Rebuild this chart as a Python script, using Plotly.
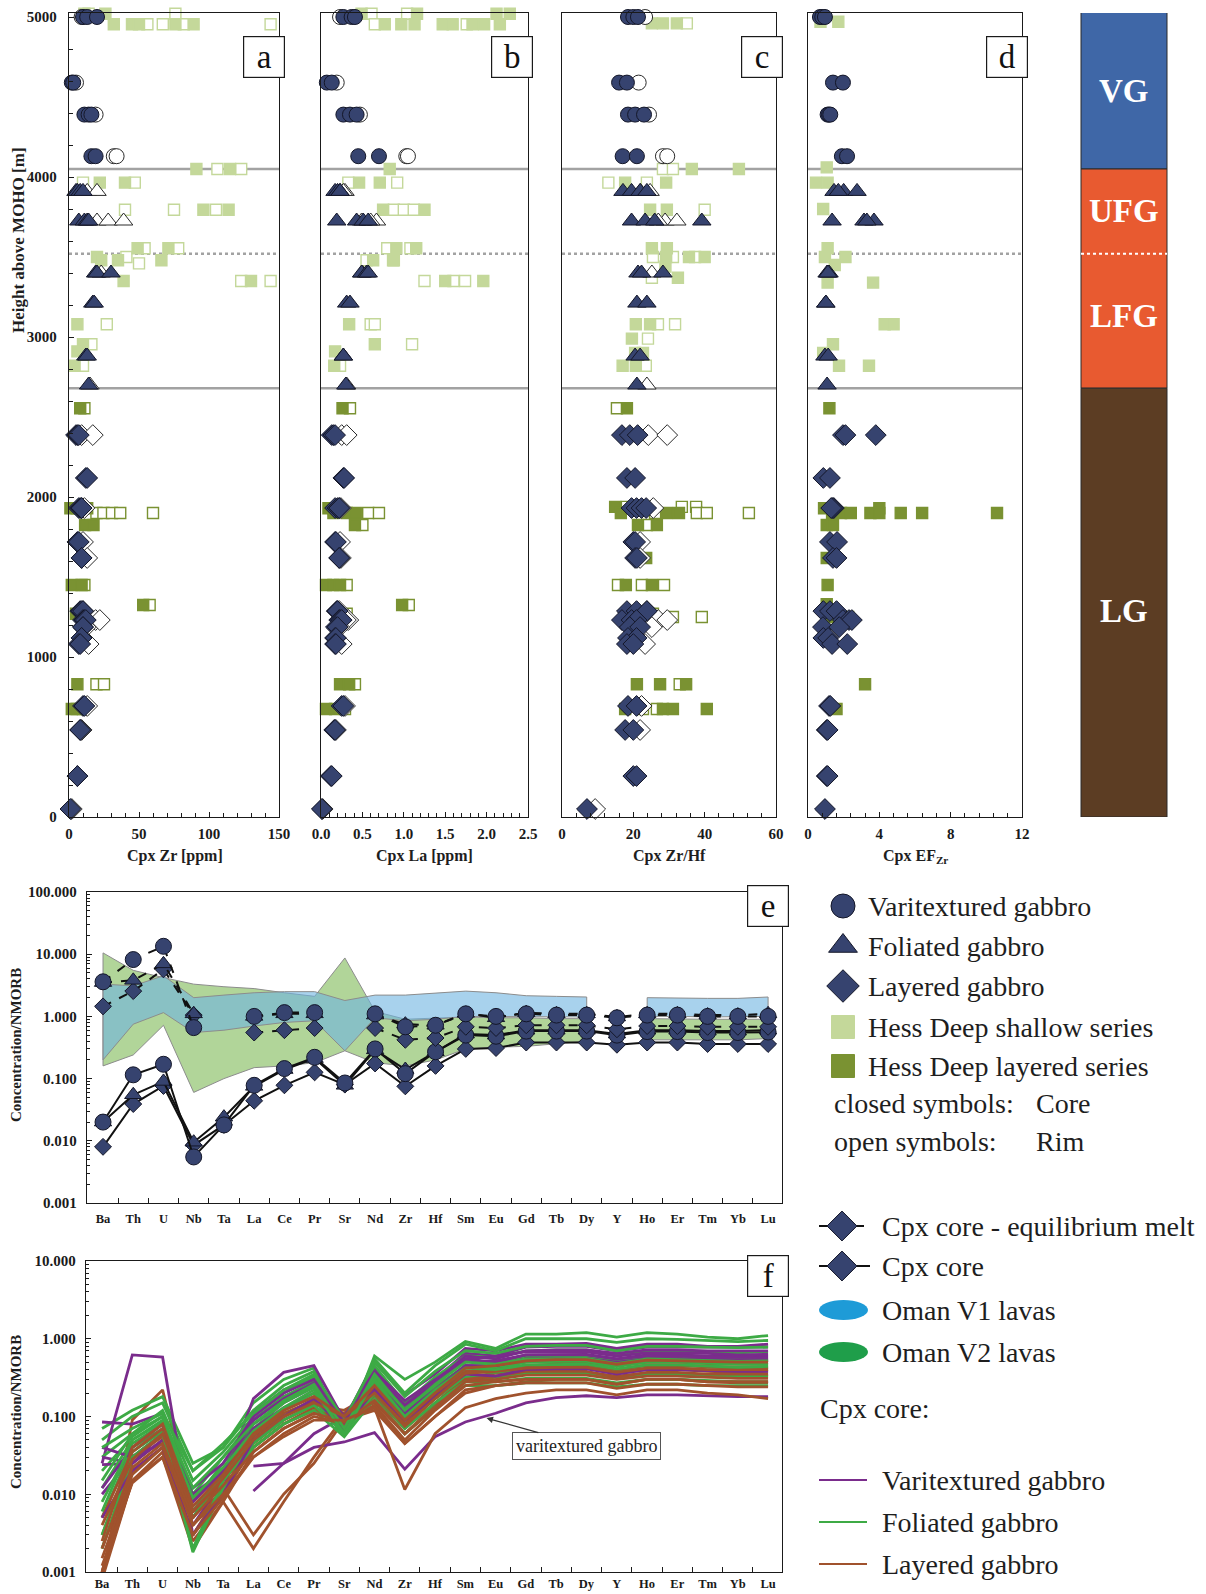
import plotly.graph_objects as go

W, H = 1206, 1594
SERIF = "Liberation Serif"

NAVY = "#36436F"
EDGE = "#141729"
RIM_EDGE = "#2A2A2A"
SHALLOW = "#C4D89A"
DEEP = "#7A9232"
ZONE_LINE = "#A2A2A2"

# ---------------------------------------------------------------------------
# Oman gabbro cpx: sample heights [m above MOHO] and values per panel
# (Zr ppm, La ppm, Zr/Hf, EF_Zr)
# ---------------------------------------------------------------------------
VG_CORE_H = [5000, 5000, 5000, 4590, 4590, 4390, 4390, 4390, 4130, 4130]
VG_CORE_ZR = [10, 13, 20, 2, 3, 11, 14, 16, 16, 19]
VG_CORE_LA = [0.27, 0.37, 0.41, 0.07, 0.13, 0.27, 0.35, 0.43, 0.45, 0.70]
VG_CORE_ZRHF = [18.5, 20.0, 21.3, 16.0, 18.2, 18.5, 20.5, 23.0, 17.0, 21.0]
VG_CORE_EF = [0.67, 0.80, 0.95, 1.40, 1.96, 1.10, 1.18, 1.25, 1.90, 2.19]
VG_RIM_H = [5000, 4590, 4390, 4130, 4130]
VG_RIM_ZR = [9, 5, 19, 32, 34]
VG_RIM_LA = [0.23, 0.19, 0.47, 1.03, 1.05]
VG_RIM_ZRHF = [23.3, 21.5, 24.4, 28.3, 29.5]

FG_CORE_H = [3910, 3910, 3910, 3910, 3725, 3725, 3725, 3725, 3400, 3400, 3400,
             3212, 3212, 2881, 2881, 2700]
FG_CORE_ZR = [5, 6, 8, 10, 7, 11, 13, 14, 19, 20, 30, 17, 18, 12, 13, 14]
FG_CORE_LA = [0.17, 0.20, 0.23, 0.23, 0.19, 0.43, 0.51, 0.57, 0.49, 0.55, 0.57,
              0.31, 0.35, 0.27, 0.27, 0.30]
FG_CORE_ZRHF = [17.1, 19.5, 21.9, 23.8, 19.5, 23.3, 26.0, 39.2, 21.3, 22.3, 28.3,
                21.0, 23.8, 20.5, 21.9, 21.0]
FG_CORE_EF = [1.46, 2.00, 2.75, 1.70, 1.35, 3.14, 3.70, 3.30, 1.07, 1.18, 1.12,
              1.00, 1.00, 0.95, 1.13, 1.07]
FG_RIM_H = [3910, 3910, 3725, 3725, 3725, 3400, 2700]
FG_RIM_ZR = [13, 20, 20, 28, 39, 23, 15]
FG_RIM_LA = [0.29, 0.27, 0.49, 0.67, 0.60, 0.50, 0.31]
FG_RIM_ZRHF = [24.7, 22.0, 28.9, 32.2, 27.0, 25.2, 23.8]

LG_CORE_H = [2387, 2387, 2387, 2119, 2119, 1931, 1931, 1931, 1931, 1719, 1719,
             1619, 1619, 1287, 1287, 1287, 1231, 1231, 1231, 1187, 1187, 1119, 1119,
             1081, 1081, 694, 694, 544, 544, 256, 256, 50]
LG_CORE_ZR = [5, 6, 7, 12, 13, 7, 8, 9, 9, 6, 7, 9, 9, 8, 9, 10, 10, 11, 12, 10, 10,
              9, 9, 7, 8, 10, 11, 8, 8, 6, 6, 1]
LG_CORE_LA = [0.13, 0.15, 0.17, 0.27, 0.28, 0.17, 0.20, 0.22, 0.22, 0.17, 0.18,
              0.22, 0.22, 0.19, 0.20, 0.20, 0.22, 0.23, 0.25, 0.18, 0.20, 0.17, 0.18,
              0.17, 0.18, 0.25, 0.27, 0.16, 0.17, 0.12, 0.13, 0.01]
LG_CORE_ZRHF = [16.8, 19.0, 21.2, 18.2, 20.5, 19.5, 20.9, 22.3, 23.6, 20.0, 20.5,
                20.5, 21.0, 18.2, 20.9, 23.8, 16.8, 19.5, 20.9, 19.0, 21.9, 18.5, 20.9,
                18.2, 20.0, 18.5, 20.9, 17.7, 20.0, 20.0, 20.9, 7.0]
LG_CORE_EF = [1.96, 2.10, 3.80, 0.86, 1.23, 1.35, 1.45, 1.40, 1.30, 1.23, 1.63,
              1.40, 1.60, 0.86, 1.23, 1.60, 1.96, 2.30, 2.46, 0.84, 1.75, 0.86, 1.13,
              1.35, 2.20, 1.18, 1.25, 1.05, 1.10, 1.05, 1.10, 0.95]
LG_RIM_H = [2387, 2387, 1931, 1719, 1619, 1287, 1231, 1231, 1231, 1187, 1081, 694,
            544, 50]
LG_RIM_ZR = [9, 17, 11, 10, 13, 10, 16, 19, 22, 12, 14, 13, 9, 2]
LG_RIM_LA = [0.25, 0.31, 0.24, 0.23, 0.24, 0.22, 0.31, 0.33, 0.30, 0.22, 0.25,
             0.29, 0.18, 0.02]
LG_RIM_ZRHF = [24.2, 29.5, 25.6, 21.9, 21.9, 23.8, 24.7, 27.0, 29.5, 25.2, 23.3,
               22.3, 21.9, 9.3]

# ---------------------------------------------------------------------------
# Hess Deep reference data (shallow and layered series), core / rim
# ---------------------------------------------------------------------------
HDS_CORE_ZR_H = [5020, 5020, 4955, 4955, 4955, 4955, 4955, 4050, 4050, 3965, 3965,
                 3795, 3795, 3555, 3555, 3500, 3480, 3480, 3480, 3350, 3350, 3080,
                 2955, 2910, 2820]
HDS_CORE_ZR = [11, 26, 32, 45, 50, 76, 89, 91, 115, 22, 40, 96, 114, 49, 71, 20,
               23, 35, 66, 39, 130, 6, 10, 6, 4]
HDS_RIM_ZR_H = [5020, 5020, 4955, 4955, 4955, 4955, 4050, 4050, 3965, 3965, 3795,
                3795, 3795, 3555, 3555, 3500, 3460, 3350, 3350, 3080, 2955, 2820]
HDS_RIM_ZR = [14, 76, 56, 67, 82, 144, 106, 123, 10, 47, 40, 75, 105, 54, 78, 41,
              50, 123, 144, 27, 16, 10]
HDL_CORE_ZR_H = [2555, 1930, 1930, 1930, 1825, 1825, 1450, 1450, 1325, 1270, 830,
                 675, 675]
HDL_CORE_ZR = [8, 1, 5.5, 13, 11.5, 17.5, 2, 9, 53, 5, 6, 2, 5.5]
HDL_RIM_ZR_H = [2555, 1900, 1900, 1900, 1900, 1900, 1450, 1325, 830, 830, 675]
HDL_RIM_ZR = [11, 19.6, 24.6, 30.7, 36.6, 60, 11, 57.6, 19.6, 25, 10]

HDS_CORE_LA_H = [5020, 5020, 5020, 5020, 4955, 4955, 4955, 4955, 4955, 4955, 4955,
                 4955, 4050, 3965, 3965, 3795, 3795, 3555, 3555, 3480, 3480, 3350,
                 3350, 3080, 2955, 2910, 2820]
HDS_CORE_LA = [0.49, 1.16, 2.12, 2.28, 0.77, 0.97, 1.13, 1.47, 1.59, 1.83, 1.97,
               2.16, 0.83, 0.46, 0.71, 0.75, 1.25, 0.91, 1.15, 0.63, 0.87, 1.50,
               1.96, 0.34, 0.65, 0.17, 0.16]
HDS_RIM_LA_H = [5020, 5020, 4955, 4955, 3965, 3965, 3795, 3795, 3795, 3555, 3555,
                3480, 3480, 3350, 3350, 3350, 3080, 3080, 2955, 2820]
HDS_RIM_LA = [0.61, 1.04, 0.65, 1.76, 0.33, 0.92, 0.88, 1.00, 1.12, 0.80, 1.08,
              0.55, 0.88, 1.25, 1.60, 1.74, 0.60, 0.65, 1.10, 0.23]
HDL_CORE_LA_H = [2555, 1930, 1930, 1900, 1900, 1900, 1825, 1450, 1450, 1450, 1325,
                 830, 830, 675, 675]
HDL_CORE_LA = [0.26, 0.09, 0.15, 0.15, 0.31, 0.42, 0.41, 0.06, 0.15, 0.23, 0.98,
               0.23, 0.34, 0.06, 0.17]
HDL_RIM_LA_H = [2555, 1900, 1900, 1825, 1450, 1325, 1270, 830, 675]
HDL_RIM_LA = [0.35, 0.57, 0.70, 0.50, 0.31, 1.06, 0.31, 0.41, 0.29]

HDS_CORE_ZRHF_H = [5030, 5030, 5030, 4960, 4960, 4960, 4050, 4050, 3965, 3965,
                   3795, 3795, 3555, 3555, 3500, 3500, 3500, 3440, 3370, 3080, 3080,
                   2990, 2900, 2900, 2820, 2820]
HDS_CORE_ZRHF = [13.0, 17.7, 32.5, 25.2, 28.3, 32.2, 36.4, 49.6, 17.7, 29.2, 24.7,
                 29.4, 25.2, 29.4, 29.2, 35.6, 40.0, 29.0, 32.5, 20.7, 24.7, 19.6,
                 20.5, 22.7, 17.0, 20.7]
HDS_RIM_ZRHF_H = [5030, 5030, 5030, 4960, 4050, 4050, 3965, 3965, 3795, 3500, 3500,
                  3500, 3370, 3080, 3080, 2990, 2820]
HDS_RIM_ZRHF = [17.0, 26.0, 29.0, 35.0, 28.3, 31.1, 13.0, 23.8, 40.0, 25.5, 31.1,
                37.3, 25.2, 26.9, 31.7, 24.1, 23.5]
HDL_CORE_ZRHF_H = [2555, 1938, 1900, 1900, 1900, 1825, 1825, 1619, 1450, 1450, 1270,
                   830, 830, 830, 675, 675, 675, 675]
HDL_CORE_ZRHF = [18.2, 14.9, 16.5, 29.4, 32.8, 21.3, 26.6, 23.6, 17.9, 25.2, 23.3,
                 21.0, 27.5, 34.8, 17.7, 28.3, 31.1, 40.6]
HDL_RIM_ZRHF_H = [2555, 1938, 1938, 1938, 1938, 1900, 1900, 1900, 1900, 1825, 1450,
                  1450, 1450, 1270, 1250, 1250, 830, 675, 675]
HDL_RIM_ZRHF = [15.4, 18.2, 24.1, 33.6, 37.6, 26.1, 37.8, 40.6, 52.4, 23.8, 15.7,
                22.4, 28.6, 25.5, 31.1, 39.2, 33.0, 22.7, 26.6]

HDS_CORE_EF_H = [5030, 5030, 4970, 4970, 4060, 3965, 3965, 3800, 3555, 3500, 3500,
                 3450, 3340, 3340, 3080, 3080, 2955, 2900, 2820, 2820]
HDS_CORE_EF = [1.6, 2.3, 0.7, 1.7, 1.05, 0.45, 1.1, 0.85, 1.1, 0.95, 2.1, 1.5, 1.1,
               3.65, 4.3, 4.8, 1.4, 0.85, 1.74, 3.42]
HDL_CORE_EF_H = [2555, 1930, 1930, 1900, 1900, 1900, 1900, 1900, 1900, 1900, 1900,
                 1825, 1825, 1619, 1450, 1330, 1250, 1250, 830, 675]
HDL_CORE_EF = [1.2, 0.9, 4.0, 1.35, 1.85, 2.4, 3.5, 4.0, 5.2, 6.4, 10.6, 1.05, 1.4,
               1.05, 1.1, 1.05, 1.3, 2.25, 3.2, 1.6]

# Lithological zone boundaries [m above MOHO]
VG_BASE = 4050
UFG_BASE = 3520
LFG_BASE = 2680
COLUMN_TOP = 5045

# ---------------------------------------------------------------------------
# NMORB-normalised spider diagrams
# ---------------------------------------------------------------------------
ELEMENTS = ["Ba", "Th", "U", "Nb", "Ta", "La", "Ce", "Pr", "Sr", "Nd", "Zr", "Hf",
            "Sm", "Eu", "Gd", "Tb", "Dy", "Y", "Ho", "Er", "Tm", "Yb", "Lu"]

MELT_VG = [3.6, 8.2, 13.4, 0.66, None, 1.0, 1.15, 1.15, None, 1.1, 0.68, 0.72, 1.1,
           1.0, 1.1, 1.05, 1.05, 0.95, 1.05, 1.05, 1.0, 1.0, 1.0]
MELT_FG = [3.5, 3.8, 7.0, 1.1, None, 1.0, 1.1, 1.1, None, 1.05, 0.75, 0.72, 1.12,
           0.95, 1.15, 1.1, 1.1, 0.98, 1.1, 1.1, 1.05, 1.05, 1.1]
MELT_LG = [1.45, 2.55, 5.7, 1.05, None, 0.55, 0.6, 0.65, None, 0.65, 0.42, 0.45,
           0.68, 0.65, 0.72, 0.72, 0.72, 0.62, 0.7, 0.7, 0.68, 0.68, 0.68]
CORE_VG = [0.02, 0.115, 0.17, 0.0055, 0.018, 0.078, 0.145, 0.22, 0.085, 0.30, 0.12,
           0.27, 0.5, 0.48, 0.58, 0.58, 0.58, 0.5, 0.57, 0.57, 0.55, 0.55, 0.56]
CORE_FG = [0.02, 0.055, 0.09, 0.0095, 0.024, 0.075, 0.14, 0.21, 0.078, 0.29, 0.14,
           0.27, 0.52, 0.5, 0.6, 0.6, 0.6, 0.52, 0.6, 0.6, 0.58, 0.58, 0.6]
CORE_LG = [0.008, 0.039, 0.076, 0.0085, 0.018, 0.044, 0.078, 0.126, 0.08, 0.175,
           0.075, 0.16, 0.3, 0.31, 0.38, 0.38, 0.38, 0.35, 0.38, 0.38, 0.36, 0.36,
           0.36]

V1_UP = [3.3, 3.1, 4.5, 2.0, 2.2, 2.4, 2.5, 2.5, 1.8, 2.2, 2.2, 2.4, 2.55, 2.4, 2.15,
         2.1, 2.05, None, 2.0, 1.95, 1.95, 1.95, 2.05]
V1_LO = [0.2, 0.75, 1.15, 0.55, 0.6, 0.7, 0.8, 0.85, 0.28, 0.95, 0.85, 0.9, 1.0,
         0.98, 0.98, 0.98, 0.98, None, 1.0, 1.0, 0.98, 0.98, 1.0]
V2_UP = [10.5, 5.5, 4.2, 3.3, 3.0, 2.8, 2.4, 2.1, 8.7, 1.2, 0.9, 0.95, 0.98, 0.95,
         0.95, 0.92, 0.92, None, 0.92, 0.9, 0.9, 0.9, 0.9]
V2_LO = [0.16, 0.24, 0.72, 0.06, 0.1, 0.15, 0.16, 0.18, 0.28, 0.18, 0.16, 0.2, 0.3,
         0.32, 0.33, 0.36, 0.4, None, 0.42, 0.42, 0.42, 0.42, 0.44]

# Individual cpx core patterns (panel f)
VARI_LINES = [
    [0.085, 0.08, 0.11, 0.004, 0.015, 0.17, 0.37, 0.45, 0.09, 0.5, 0.19, 0.35, 0.75, 0.7, 0.85, 0.85, 0.87, 0.75, 0.85, 0.85, 0.8, 0.8, 0.85],
    [0.025, 0.62, 0.58, 0.003, 0.012, 0.11, 0.22, 0.32, 0.07, 0.42, 0.15, 0.3, 0.65, 0.6, 0.78, 0.8, 0.8, 0.7, 0.78, 0.78, 0.78, 0.77, 0.78],
    [0.03, 0.025, 0.06, 0.006, 0.02, 0.09, 0.18, 0.28, 0.08, 0.35, 0.14, 0.28, 0.6, 0.55, 0.7, 0.72, 0.72, 0.65, 0.72, 0.72, 0.7, 0.7, 0.7],
    [0.024, 0.025, 0.05, 0.005, 0.018, 0.08, 0.15, 0.24, 0.075, 0.3, 0.12, 0.25, 0.55, 0.5, 0.62, 0.63, 0.63, 0.55, 0.62, 0.62, 0.6, 0.6, 0.6],
    [0.01, 0.03, 0.045, 0.01, 0.02, 0.07, 0.13, 0.2, 0.08, 0.28, 0.11, 0.22, 0.45, 0.45, 0.55, 0.56, 0.56, 0.5, 0.55, 0.55, 0.54, 0.54, 0.54],
    [None, None, None, None, None, 0.023, 0.025, 0.04, 0.047, 0.062, 0.021, 0.055, 0.085, 0.11, 0.15, 0.175, 0.185, 0.175, 0.19, 0.19, 0.185, 0.18, 0.18],
    [None, None, None, None, None, 0.011, 0.025, 0.06, 0.1, 0.22, 0.09, 0.2, 0.45, 0.45, 0.55, 0.55, 0.55, 0.48, 0.55, 0.55, 0.52, 0.52, 0.52],
    [0.04, 0.03, 0.06, 0.012, 0.025, 0.1, 0.2, 0.3, 0.1, 0.38, 0.16, 0.3, 0.55, 0.6, 0.68, 0.68, 0.68, 0.6, 0.66, 0.66, 0.65, 0.62, 0.63],
    [0.005, 0.02, 0.04, 0.003, 0.01, 0.05, 0.1, 0.17, 0.07, 0.22, 0.09, 0.18, 0.35, 0.33, 0.4, 0.41, 0.41, 0.35, 0.4, 0.4, 0.39, 0.38, 0.38],
    [0.012, 0.04, 0.08, 0.008, 0.02, 0.09, 0.17, 0.27, 0.085, 0.36, 0.14, 0.27, 0.5, 0.52, 0.62, 0.62, 0.62, 0.55, 0.6, 0.6, 0.58, 0.58, 0.57],
]
FOLI_LINES = [
    [0.07, 0.12, 0.18, 0.025, 0.04, 0.15, 0.3, 0.42, 0.06, 0.6, 0.3, 0.5, 0.92, 0.75, 1.15, 1.15, 1.2, 1.05, 1.2, 1.15, 1.05, 1.0, 1.1],
    [0.05, 0.1, 0.15, 0.02, 0.04, 0.12, 0.25, 0.38, 0.07, 0.55, 0.2, 0.45, 0.85, 0.7, 1.0, 1.0, 1.0, 0.9, 1.0, 0.98, 0.95, 0.92, 0.95],
    [0.03, 0.06, 0.12, 0.015, 0.035, 0.1, 0.2, 0.33, 0.075, 0.45, 0.15, 0.32, 0.6, 0.58, 0.7, 0.72, 0.72, 0.62, 0.7, 0.7, 0.68, 0.66, 0.68],
    [0.02, 0.055, 0.1, 0.01, 0.03, 0.09, 0.18, 0.28, 0.08, 0.38, 0.13, 0.28, 0.52, 0.5, 0.58, 0.58, 0.6, 0.52, 0.58, 0.57, 0.55, 0.55, 0.55],
    [0.012, 0.05, 0.09, 0.008, 0.025, 0.07, 0.15, 0.24, 0.065, 0.32, 0.11, 0.24, 0.45, 0.42, 0.5, 0.5, 0.5, 0.44, 0.5, 0.5, 0.48, 0.47, 0.47],
    [0.008, 0.045, 0.08, 0.006, 0.02, 0.06, 0.12, 0.2, 0.07, 0.28, 0.09, 0.2, 0.38, 0.37, 0.42, 0.43, 0.43, 0.38, 0.42, 0.42, 0.4, 0.4, 0.4],
    [0.005, 0.04, 0.07, 0.005, 0.018, 0.05, 0.1, 0.16, 0.06, 0.22, 0.08, 0.17, 0.32, 0.32, 0.36, 0.36, 0.36, 0.31, 0.35, 0.35, 0.34, 0.33, 0.33],
    [0.003, 0.035, 0.065, 0.002, 0.015, 0.045, 0.09, 0.14, 0.06, 0.2, 0.07, 0.15, 0.28, 0.28, 0.31, 0.31, 0.31, 0.27, 0.3, 0.3, 0.29, 0.28, 0.28],
    [0.002, 0.03, 0.06, 0.0018, 0.012, 0.04, 0.08, 0.12, 0.055, 0.17, 0.06, 0.13, 0.25, 0.25, 0.27, 0.27, 0.27, 0.24, 0.26, 0.26, 0.25, 0.25, 0.25],
    [0.04, 0.07, 0.11, 0.02, 0.045, 0.11, 0.22, 0.35, 0.09, 0.5, 0.18, 0.38, 0.7, 0.65, 0.8, 0.82, 0.82, 0.7, 0.8, 0.8, 0.78, 0.77, 0.78],
    [0.015, 0.06, 0.1, 0.012, 0.03, 0.08, 0.16, 0.26, 0.07, 0.35, 0.12, 0.26, 0.5, 0.47, 0.55, 0.55, 0.56, 0.48, 0.55, 0.54, 0.52, 0.51, 0.52],
    [0.006, 0.05, 0.085, 0.009, 0.022, 0.065, 0.13, 0.22, 0.06, 0.3, 0.1, 0.22, 0.42, 0.4, 0.46, 0.46, 0.47, 0.41, 0.46, 0.46, 0.44, 0.43, 0.44],
]
LAYER_LINES = [
    [0.0008, 0.09, 0.22, 0.006, 0.01, 0.05, 0.1, 0.15, 0.11, 0.2, 0.08, 0.17, 0.35, 0.4, 0.45, 0.45, 0.45, 0.4, 0.45, 0.45, 0.43, 0.42, 0.43],
    [0.001, 0.02, 0.04, 0.003, 0.01, 0.04, 0.08, 0.13, 0.09, 0.18, 0.07, 0.15, 0.32, 0.36, 0.4, 0.42, 0.42, 0.36, 0.4, 0.4, 0.38, 0.37, 0.38],
    [0.0009, 0.015, 0.035, 0.0025, 0.008, 0.035, 0.07, 0.11, 0.1, 0.15, 0.06, 0.13, 0.28, 0.32, 0.36, 0.37, 0.37, 0.33, 0.36, 0.36, 0.34, 0.34, 0.34],
    [0.002, 0.025, 0.05, 0.004, 0.012, 0.045, 0.09, 0.14, 0.12, 0.2, 0.09, 0.19, 0.38, 0.42, 0.5, 0.52, 0.52, 0.45, 0.5, 0.5, 0.48, 0.47, 0.47],
    [0.001, 0.03, 0.06, 0.005, 0.015, 0.06, 0.12, 0.18, 0.1, 0.24, 0.1, 0.22, 0.42, 0.45, 0.55, 0.56, 0.56, 0.48, 0.55, 0.55, 0.52, 0.52, 0.52],
    [0.001, 0.02, 0.04, 0.003, 0.012, 0.003, 0.01, 0.025, 0.09, 0.12, 0.045, 0.1, 0.2, 0.25, 0.28, 0.3, 0.3, 0.26, 0.3, 0.3, 0.28, 0.27, 0.27],
    [0.0008, 0.015, 0.03, 0.002, 0.008, 0.002, 0.008, 0.03, 0.1, 0.13, 0.0115, 0.06, 0.13, 0.17, 0.2, 0.22, 0.22, 0.19, 0.22, 0.22, 0.2, 0.19, 0.17],
    [0.003, 0.03, 0.055, 0.006, 0.015, 0.04, 0.08, 0.12, 0.09, 0.17, 0.06, 0.14, 0.3, 0.33, 0.38, 0.38, 0.38, 0.32, 0.37, 0.37, 0.35, 0.35, 0.35],
    [0.005, 0.035, 0.07, 0.008, 0.02, 0.055, 0.11, 0.16, 0.1, 0.22, 0.08, 0.18, 0.38, 0.4, 0.45, 0.47, 0.47, 0.4, 0.46, 0.46, 0.44, 0.43, 0.43],
    [0.0015, 0.018, 0.04, 0.004, 0.01, 0.03, 0.06, 0.1, 0.08, 0.14, 0.05, 0.12, 0.25, 0.28, 0.3, 0.3, 0.3, 0.26, 0.3, 0.3, 0.28, 0.28, 0.28],
    [0.002, 0.022, 0.045, 0.005, 0.013, 0.035, 0.07, 0.11, 0.085, 0.16, 0.06, 0.13, 0.28, 0.3, 0.34, 0.34, 0.34, 0.3, 0.33, 0.33, 0.32, 0.31, 0.31],
    [0.004, 0.028, 0.06, 0.006, 0.016, 0.05, 0.1, 0.15, 0.1, 0.2, 0.075, 0.17, 0.36, 0.38, 0.42, 0.43, 0.43, 0.37, 0.42, 0.42, 0.4, 0.4, 0.4],
    [0.0012, 0.014, 0.03, 0.003, 0.009, 0.03, 0.055, 0.09, 0.09, 0.13, 0.045, 0.1, 0.22, 0.25, 0.27, 0.27, 0.27, 0.23, 0.26, 0.26, 0.25, 0.24, 0.24],
    [0.0025, 0.04, 0.08, 0.007, 0.018, 0.06, 0.12, 0.18, 0.1, 0.25, 0.09, 0.2, 0.42, 0.45, 0.52, 0.54, 0.54, 0.47, 0.53, 0.52, 0.5, 0.5, 0.5],
]

PURPLE = "#7A2C8C"
GREEN = "#3DAA45"
BROWN = "#A0522D"
V1_FILL = "rgba(110,180,225,0.6)"
V2_FILL = "rgba(125,185,85,0.6)"

fig = go.Figure()


def xdom(left, right):
    return [left / W, right / W]


def ydom(top, bottom):
    return [1 - bottom / H, 1 - top / H]


def points(xa, ya, hs, vals, symbol, color, edge, size, width=1.0):
    xs, ys = [], []
    for h, v in zip(hs, vals):
        if v is not None:
            xs.append(v)
            ys.append(h)
    fig.add_trace(go.Scatter(
        x=xs, y=ys, xaxis=xa, yaxis=ya, mode="markers", cliponaxis=False,
        marker=dict(symbol=symbol, size=size, color=color, line=dict(color=edge, width=width)),
        showlegend=False, hoverinfo="skip"))


# ---------------------------- panels a-d ----------------------------------
PANEL_SERIES = [
    ("x", "y",
     [(HDS_RIM_ZR_H, HDS_RIM_ZR, "white", SHALLOW), (HDS_CORE_ZR_H, HDS_CORE_ZR, SHALLOW, SHALLOW),
      (HDL_RIM_ZR_H, HDL_RIM_ZR, "white", DEEP), (HDL_CORE_ZR_H, HDL_CORE_ZR, DEEP, DEEP)],
     [(VG_RIM_H, VG_RIM_ZR, VG_CORE_H, VG_CORE_ZR),
      (FG_RIM_H, FG_RIM_ZR, FG_CORE_H, FG_CORE_ZR),
      (LG_RIM_H, LG_RIM_ZR, LG_CORE_H, LG_CORE_ZR)]),
    ("x2", "y2",
     [(HDS_RIM_LA_H, HDS_RIM_LA, "white", SHALLOW), (HDS_CORE_LA_H, HDS_CORE_LA, SHALLOW, SHALLOW),
      (HDL_RIM_LA_H, HDL_RIM_LA, "white", DEEP), (HDL_CORE_LA_H, HDL_CORE_LA, DEEP, DEEP)],
     [(VG_RIM_H, VG_RIM_LA, VG_CORE_H, VG_CORE_LA),
      (FG_RIM_H, FG_RIM_LA, FG_CORE_H, FG_CORE_LA),
      (LG_RIM_H, LG_RIM_LA, LG_CORE_H, LG_CORE_LA)]),
    ("x3", "y3",
     [(HDS_RIM_ZRHF_H, HDS_RIM_ZRHF, "white", SHALLOW), (HDS_CORE_ZRHF_H, HDS_CORE_ZRHF, SHALLOW, SHALLOW),
      (HDL_RIM_ZRHF_H, HDL_RIM_ZRHF, "white", DEEP), (HDL_CORE_ZRHF_H, HDL_CORE_ZRHF, DEEP, DEEP)],
     [(VG_RIM_H, VG_RIM_ZRHF, VG_CORE_H, VG_CORE_ZRHF),
      (FG_RIM_H, FG_RIM_ZRHF, FG_CORE_H, FG_CORE_ZRHF),
      (LG_RIM_H, LG_RIM_ZRHF, LG_CORE_H, LG_CORE_ZRHF)]),
    ("x4", "y4",
     [(HDS_CORE_EF_H, HDS_CORE_EF, SHALLOW, SHALLOW), (HDL_CORE_EF_H, HDL_CORE_EF, DEEP, DEEP)],
     [(None, None, VG_CORE_H, VG_CORE_EF),
      (None, None, FG_CORE_H, FG_CORE_EF),
      (None, None, LG_CORE_H, LG_CORE_EF)]),
]
OMAN_SYMBOLS = [("circle", 15), ("triangle-up", 16), ("diamond", 16)]

for xa, ya, hd_sets, oman_sets in PANEL_SERIES:
    for hs, vals, fill, edge in hd_sets:
        points(xa, ya, hs, vals, "square", fill, edge, 11, 1.4)
    for (rim_h, rim_v, _, _), (sym, size) in zip(oman_sets, OMAN_SYMBOLS):
        if rim_h is not None:
            points(xa, ya, rim_h, rim_v, sym, "white", RIM_EDGE, size, 1.0)
    for (_, _, core_h, core_v), (sym, size) in zip(oman_sets, OMAN_SYMBOLS):
        points(xa, ya, core_h, core_v, sym, NAVY, EDGE, size, 1.0)

# ---------------------------- panel e -------------------------------------


def band(xa, ya, up, lo, fill):
    seg = []
    segments = []
    for i, u in enumerate(up):
        if u is None:
            if seg:
                segments.append(seg)
            seg = []
        else:
            seg.append(i)
    if seg:
        segments.append(seg)
    for s in segments:
        xs = [ELEMENTS[i] for i in s] + [ELEMENTS[i] for i in reversed(s)]
        ys = [up[i] for i in s] + [lo[i] for i in reversed(s)]
        fig.add_trace(go.Scatter(
            x=xs + [xs[0]], y=ys + [ys[0]], xaxis=xa, yaxis=ya, mode="lines",
            fill="toself", fillcolor=fill, line=dict(color="#8C8C8C", width=1),
            showlegend=False, hoverinfo="skip"))


band("x5", "y5", V2_UP, V2_LO, V2_FILL)
band("x5", "y5", V1_UP, V1_LO, V1_FILL)

E_SERIES = [
    (CORE_LG, "solid", "diamond", 13), (CORE_FG, "solid", "triangle-up", 15),
    (CORE_VG, "solid", "circle", 16),
    (MELT_LG, "dash", "diamond", 13), (MELT_FG, "dash", "triangle-up", 15),
    (MELT_VG, "dash", "circle", 16),
]
for vals, dash, sym, size in E_SERIES:
    fig.add_trace(go.Scatter(
        x=ELEMENTS, y=vals, xaxis="x5", yaxis="y5", mode="lines+markers",
        connectgaps=False, cliponaxis=False,
        line=dict(color="#111111", width=2, dash=dash),
        marker=dict(symbol=sym, size=size, color=NAVY, line=dict(color=EDGE, width=1)),
        showlegend=False, hoverinfo="skip"))

# ---------------------------- panel f -------------------------------------
ordered = []
for i in range(max(len(VARI_LINES), len(FOLI_LINES), len(LAYER_LINES))):
    if i < len(LAYER_LINES):
        ordered.append((LAYER_LINES[i], BROWN))
    if i < len(FOLI_LINES):
        ordered.append((FOLI_LINES[i], GREEN))
    if i < len(VARI_LINES):
        ordered.append((VARI_LINES[i], PURPLE))
for vals, col in ordered:
    fig.add_trace(go.Scatter(
        x=ELEMENTS, y=vals, xaxis="x6", yaxis="y6", mode="lines", connectgaps=False,
        line=dict(color=col, width=2.8), showlegend=False, hoverinfo="skip"))

# ---------------------------- legend glyphs (pixel space) -----------------
LEG = dict(xaxis="x7", yaxis="y7", showlegend=False, hoverinfo="skip", cliponaxis=False)
legend_marks = [
    ("circle", NAVY, EDGE, 906, 24),
    ("triangle-up", NAVY, EDGE, 946, 25),
    ("diamond", NAVY, EDGE, 986, 25),
    ("square", SHALLOW, SHALLOW, 1027, 23),
    ("square", DEEP, DEEP, 1066, 23),
]
for sym, col, edge, yy, sz in legend_marks:
    fig.add_trace(go.Scatter(x=[843], y=[yy], mode="markers",
                             marker=dict(symbol=sym, size=sz, color=col, line=dict(color=edge, width=1)),
                             **LEG))
for yy, dash in [(1226, "dash"), (1266, "solid")]:
    fig.add_trace(go.Scatter(x=[819, 870], y=[yy, yy], mode="lines",
                             line=dict(color="#111111", width=2, dash=dash), **LEG))
    fig.add_trace(go.Scatter(x=[842], y=[yy], mode="markers",
                             marker=dict(symbol="diamond", size=23, color=NAVY, line=dict(color=EDGE, width=1)),
                             **LEG))
for yy, col in [(1480, PURPLE), (1522, GREEN), (1564, BROWN)]:
    fig.add_trace(go.Scatter(x=[819, 867], y=[yy, yy], mode="lines",
                             line=dict(color=col, width=2), **LEG))

shapes = []
for yy, col in [(1310, "#1E9BD7"), (1352, "#1F9E4A")]:
    shapes.append(dict(type="circle", xref="x7", yref="y7", x0=819, x1=868, y0=yy - 10, y1=yy + 10,
                       fillcolor=col, line=dict(width=0)))

# zone lines across panels a-d
for xa in ["x", "x2", "x3", "x4"]:
    ya = "y" if xa == "x" else "y" + xa[1:]
    for yv, dash in [(VG_BASE, "solid"), (LFG_BASE, "solid"), (UFG_BASE, "dot")]:
        shapes.append(dict(type="line", xref=f"{xa} domain", yref=ya, x0=0, x1=1, y0=yv, y1=yv,
                           line=dict(color=ZONE_LINE, width=2.5, dash=dash), layer="below"))

# lithological column
CX0, CX1 = 1081 / W, 1167 / W
for y0, y1, col in [(VG_BASE, COLUMN_TOP, "#3F67A7"), (LFG_BASE, VG_BASE, "#E85A30"),
                    (0, LFG_BASE, "#5C3D23")]:
    shapes.append(dict(type="rect", xref="paper", yref="y", x0=CX0, x1=CX1, y0=y0, y1=y1,
                       fillcolor=col, line=dict(color="#2A2A2A", width=1)))
shapes.append(dict(type="line", xref="paper", yref="y", x0=CX0, x1=CX1, y0=UFG_BASE, y1=UFG_BASE,
                   line=dict(color="white", width=2, dash="dot")))

annotations = []


def txt(x, y, text, size=28, anchor="left", bold=False, angle=0, color="#1E1E1E"):
    t = f"<b>{text}</b>" if bold else text
    annotations.append(dict(xref="x7", yref="y7", x=x, y=y, text=t, showarrow=False,
                            xanchor=anchor, yanchor="middle", textangle=angle,
                            font=dict(family=SERIF, size=size, color=color)))


for yy, label in [(906, "Varitextured gabbro"), (946, "Foliated gabbro"), (986, "Layered gabbro"),
                  (1027, "Hess Deep shallow series"), (1066, "Hess Deep layered series")]:
    txt(866, yy, label)
txt(832, 1103, "closed symbols:")
txt(1034, 1103, "Core")
txt(832, 1141, "open symbols:")
txt(1034, 1141, "Rim")
for yy, label in [(1226, "Cpx core - equilibrium melt"), (1266, "Cpx core"),
                  (1310, "Oman V1 lavas"), (1352, "Oman V2 lavas"),
                  (1480, "Varitextured gabbro"), (1522, "Foliated gabbro"), (1564, "Layered gabbro")]:
    txt(880, yy, label)
txt(818, 1408, "Cpx core:")

# axis titles
txt(175, 856, "Cpx Zr [ppm]", size=16, anchor="center", bold=True)
txt(424, 856, "Cpx La [ppm]", size=16, anchor="center", bold=True)
txt(669, 856, "Cpx Zr/Hf", size=16, anchor="center", bold=True)
txt(915, 856, "Cpx EF<sub>Zr</sub>", size=16, anchor="center", bold=True)
txt(18, 240, "Height above MOHO [m]", size=17, anchor="center", bold=True, angle=-90)
txt(16, 1045, "Concentration/NMORB", size=15, anchor="center", bold=True, angle=-90)
txt(16, 1412, "Concentration/NMORB", size=15, anchor="center", bold=True, angle=-90)

# zone names in the column
for yv, name in [(4535, "VG"), (3790, "UFG"), (3130, "LFG"), (1290, "LG")]:
    annotations.append(dict(xref="paper", yref="y", x=(CX0 + CX1) / 2, y=yv, text=f"<b>{name}</b>",
                            xanchor="center", yanchor="middle", showarrow=False,
                            font=dict(family=SERIF, size=33, color="white")))

# panel letters
for cx, cy, letter in [(263.5, 57, "a"), (512, 57, "b"), (762, 57, "c"), (1007, 57, "d"),
                       (767.5, 906, "e"), (767.5, 1276, "f")]:
    annotations.append(dict(xref="x7", yref="y7", x=cx, y=cy, text=letter, showarrow=False,
                            xanchor="center", yanchor="middle",
                            width=40, height=40, bgcolor="white", bordercolor="#1A1A1A",
                            borderwidth=1.2, borderpad=0, align="center", valign="middle",
                            font=dict(family=SERIF, size=33, color="#111111")))

# call-out in panel f
annotations.append(dict(xref="x6", yref="y6", x=12.7, y=-1.02, ax=100, ay=28,
                        text="varitextured gabbro", showarrow=True, arrowhead=2, arrowsize=1,
                        arrowwidth=1.3, arrowcolor="#333333", bgcolor="white",
                        bordercolor="#555555", borderwidth=1, borderpad=3,
                        font=dict(family=SERIF, size=18, color="#222222")))

TICKFONT = dict(family=SERIF, size=15, color="#1A1A1A", weight="bold")
BOX = dict(showline=True, mirror=True, linecolor="#1A1A1A", linewidth=1.3, showgrid=False,
           zeroline=False)

layout = dict(
    width=W, height=H, margin=dict(l=0, r=0, t=0, b=0, autoexpand=False),
    paper_bgcolor="white", plot_bgcolor="rgba(0,0,0,0)", showlegend=False,
    shapes=shapes, annotations=annotations,
)

TOP_AXES = [
    ("xaxis", (69, 279), [0, 150], 50, 10, "d"),
    ("xaxis2", (321, 528), [0, 2.5], 0.5, 0.1, ".1f"),
    ("xaxis3", (562, 776), [0, 60], 20, 4, "d"),
    ("xaxis4", (808, 1022), [0, 12], 4, 0.8, "d"),
]
for i, (name, (l, r), rng, dt, mdt, fmt) in enumerate(TOP_AXES):
    suffix = "" if i == 0 else str(i + 1)
    layout[name] = dict(domain=xdom(l, r), range=rng, anchor="y" + suffix, tick0=0, dtick=dt,
                        tickformat=fmt, ticks="inside", ticklen=5, tickcolor="#1A1A1A",
                        tickfont=TICKFONT, ticklabelstandoff=3,
                        minor=dict(ticks="inside", ticklen=4, dtick=mdt, tick0=0, tickcolor="#1A1A1A"),
                        **BOX)
    yname = "yaxis" + suffix
    ycfg = dict(domain=ydom(13, 817), range=[0, 5025], anchor="x" + suffix, **BOX)
    if i == 0:
        ycfg.update(tick0=0, dtick=1000, ticks="inside", ticklen=5, tickcolor="#1A1A1A",
                    tickfont=TICKFONT, ticklabelstandoff=8,
                    minor=dict(ticks="inside", ticklen=4, dtick=200, tick0=0, tickcolor="#1A1A1A"))
    else:
        ycfg.update(matches="y", showticklabels=False, ticks="")
    layout[yname] = ycfg


def category_axis(standoff):
    return dict(type="category", categoryorder="array", categoryarray=ELEMENTS,
                range=[-0.53, 22.46], tickson="boundaries", ticks="inside", ticklen=5,
                tickangle=0, tickcolor="#1A1A1A",
                tickfont=dict(family=SERIF, size=12.5, color="#1A1A1A", weight="bold"),
                ticklabelstandoff=standoff)


layout["xaxis5"] = dict(domain=xdom(87, 782), anchor="y5", **category_axis(4), **BOX)
layout["yaxis5"] = dict(domain=ydom(892, 1203), anchor="x5", type="log", range=[-3, 2],
                        dtick=1, tickformat=".3f", ticks="inside", ticklen=5,
                        tickcolor="#1A1A1A", tickfont=TICKFONT, ticklabelstandoff=6,
                        minor=dict(ticks="inside", ticklen=3, dtick="D1", tickcolor="#1A1A1A"),
                        **BOX)
layout["xaxis6"] = dict(domain=xdom(86, 782), anchor="y6", **category_axis(0), **BOX)
layout["yaxis6"] = dict(domain=ydom(1261, 1572), anchor="x6", type="log", range=[-3, 1],
                        dtick=1, tickformat=".3f", ticks="inside", ticklen=5,
                        tickcolor="#1A1A1A", tickfont=TICKFONT, ticklabelstandoff=6,
                        minor=dict(ticks="inside", ticklen=3, dtick="D1", tickcolor="#1A1A1A"),
                        **BOX)
layout["xaxis7"] = dict(domain=[0, 1], range=[0, W], anchor="y7", visible=False, fixedrange=True)
layout["yaxis7"] = dict(domain=[0, 1], range=[H, 0], anchor="x7", visible=False, fixedrange=True)

fig.update_layout(**layout)
fig.write_html("out.html", post_script="document.body.style.margin = '0';")
